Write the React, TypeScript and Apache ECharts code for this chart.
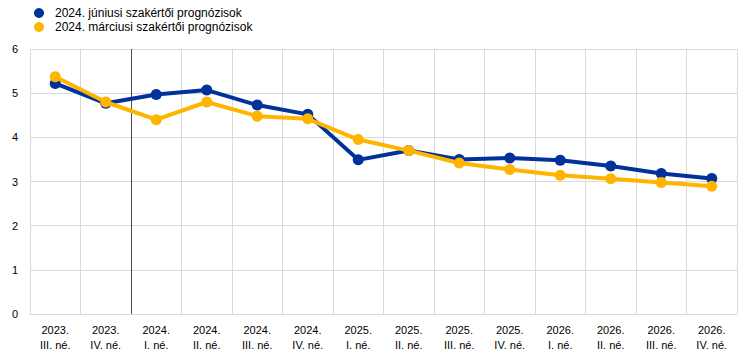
import React, { useEffect, useRef } from "react";
import * as echarts from "echarts";

const categories = [
  "2023.\nIII. né.", "2023.\nIV. né.", "2024.\nI. né.", "2024.\nII. né.",
  "2024.\nIII. né.", "2024.\nIV. né.", "2025.\nI. né.", "2025.\nII. né.",
  "2025.\nIII. né.", "2025.\nIV. né.", "2026.\nI. né.", "2026.\nII. né.",
  "2026.\nIII. né.", "2026.\nIV. né.",
];
const juneName = "2024. júniusi szakértői prognózisok";
const marchName = "2024. márciusi szakértői prognózisok";
const juneValues = [5.22, 4.77, 4.97, 5.07, 4.73, 4.52, 3.49, 3.7, 3.5, 3.53, 3.48, 3.35, 3.18, 3.07];
const marchValues = [5.37, 4.8, 4.4, 4.8, 4.48, 4.42, 3.95, 3.7, 3.42, 3.27, 3.14, 3.06, 2.98, 2.89];

const gridColor = "#d9d9d9";
const splitColors = categories.concat([""]).map((_, i) => (i === 2 ? "#4a4a4a" : gridColor));

export default function App() {
  const ref = useRef<HTMLDivElement>(null);
  useEffect(() => {
    const chart = echarts.init(ref.current!, undefined, { renderer: "svg" });
    chart.setOption({
      animation: false,
      textStyle: { fontFamily: "Liberation Sans, Arial, sans-serif" },
      legend: {
        orient: "vertical",
        left: 29,
        top: 2,
        itemWidth: 10,
        itemHeight: 10,
        itemGap: 2,
        icon: "circle",
        textStyle: { fontSize: 12, color: "#000", padding: [0, 0, 0, 6] },
        data: [juneName, marchName],
      },
      grid: { left: 30, right: 7, top: 49, bottom: 42, containLabel: false },
      xAxis: {
        type: "category",
        data: categories,
        boundaryGap: true,
        axisLine: { show: true, lineStyle: { color: gridColor } },
        axisTick: { show: false },
        axisLabel: { fontSize: 11, color: "#000", lineHeight: 15, margin: 8 },
        splitLine: { show: true, lineStyle: { color: splitColors, width: 1 } },
      },
      yAxis: {
        type: "value",
        min: 0,
        max: 6,
        interval: 1,
        axisLine: { show: false },
        axisTick: { show: false },
        axisLabel: { fontSize: 11, color: "#000", margin: 12 },
        splitLine: { show: true, lineStyle: { color: gridColor, width: 1 } },
      },
      series: [
        {
          name: juneName,
          type: "line",
          data: juneValues,
          color: "#003299",
          symbol: "circle",
          symbolSize: 11,
          lineStyle: { width: 4 },
          z: 3,
        },
        {
          name: marchName,
          type: "line",
          data: marchValues,
          color: "#ffb400",
          symbol: "circle",
          symbolSize: 11,
          lineStyle: { width: 4 },
          z: 4,
        },
      ],
    });
    return () => chart.dispose();
  }, []);
  return <div ref={ref} style={{ width: 744, height: 356, position: "absolute", left: 0, top: 0 }} />;
}
